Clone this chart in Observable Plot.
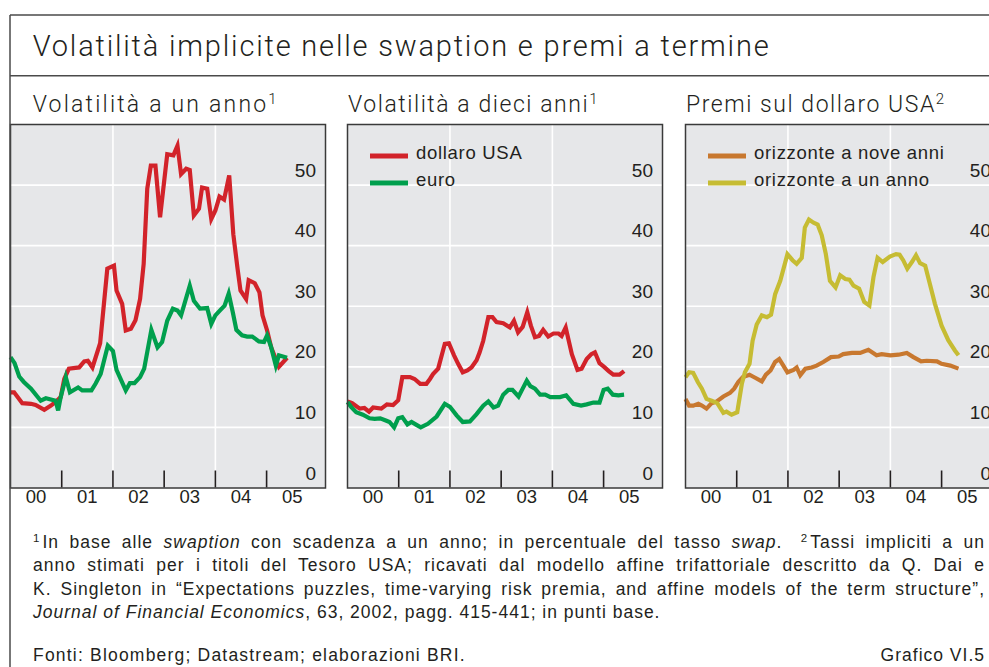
<!DOCTYPE html>
<html><head><meta charset="utf-8">
<script src="https://cdn.jsdelivr.net/npm/d3@7"></script>
<script src="https://cdn.jsdelivr.net/npm/@observablehq/plot@0.6"></script>
<style>
html,body{margin:0;padding:0;background:#fff;overflow:hidden;width:989px;height:667px;}
#root{position:relative;width:989px;height:667px;overflow:hidden;font-family:"Liberation Sans",Arial,sans-serif;color:#231f20;}
.panel{position:absolute;}
.panel svg{max-width:none !important;}
</style></head><body><div id="root"></div><script>
// ---------- DATA (decimal years, values) ----------
const usd1yYears = [2000.00,2000.07,2000.23,2000.40,2000.49,2000.66,2000.79,2000.88,2000.98,2001.05,2001.14,2001.34,2001.44,2001.51,2001.60,2001.75,2001.89,2002.02,2002.07,2002.18,2002.25,2002.35,2002.44,2002.53,2002.60,2002.67,2002.74,2002.83,2002.92,2003.06,2003.18,2003.26,2003.33,2003.43,2003.50,2003.58,2003.68,2003.74,2003.84,2003.92,2004.00,2004.08,2004.17,2004.27,2004.35,2004.43,2004.49,2004.60,2004.65,2004.77,2004.86,2004.92,2005.01,2005.09,2005.24,2005.40];
const usd1y = [15.8,15.8,14.0,13.9,13.7,12.9,13.6,14.2,15.0,18.0,19.7,19.9,20.9,21.0,19.9,23.9,36.2,36.7,32.6,30.4,26.0,26.3,27.7,31.2,37.0,49.4,53.2,53.2,44.7,55.1,54.9,56.5,51.8,52.7,52.5,45.0,46.1,49.6,49.4,44.4,45.8,48.1,47.6,51.6,41.9,36.4,32.6,31.2,34.3,33.8,32.3,28.5,26.0,23.2,20.0,21.5];
const eur1yYears = [2000.00,2000.08,2000.17,2000.26,2000.40,2000.59,2000.69,2000.88,2000.93,2000.98,2001.08,2001.16,2001.32,2001.40,2001.58,2001.66,2001.76,2001.90,2002.00,2002.07,2002.25,2002.33,2002.42,2002.53,2002.61,2002.75,2002.87,2002.96,2003.06,2003.17,2003.26,2003.33,2003.50,2003.58,2003.70,2003.84,2003.92,2004.00,2004.10,2004.18,2004.26,2004.34,2004.41,2004.52,2004.62,2004.72,2004.85,2004.95,2005.01,2005.09,2005.18,2005.24,2005.40];
const eur1y = [21.6,20.6,18.4,17.5,16.4,14.4,14.8,14.4,12.8,15.0,18.3,15.8,16.6,16.1,16.1,17.2,18.8,23.5,22.6,19.5,16.1,17.3,17.3,18.3,19.7,26.1,23.2,24.1,27.6,29.6,29.3,28.5,33.4,30.9,29.6,29.7,27.1,28.5,29.4,30.1,32.1,29.0,26.1,25.2,25.0,25.0,24.2,24.1,25.2,23.2,20.2,21.9,21.5];

const usd10yYears = [2000.00,2000.09,2000.24,2000.33,2000.42,2000.50,2000.66,2000.77,2000.89,2000.99,2001.07,2001.22,2001.31,2001.42,2001.54,2001.61,2001.67,2001.77,2001.90,2001.98,2002.08,2002.16,2002.25,2002.34,2002.42,2002.52,2002.58,2002.65,2002.75,2002.83,2002.91,2003.04,2003.17,2003.25,2003.33,2003.42,2003.51,2003.58,2003.66,2003.74,2003.82,2003.92,2004.02,2004.12,2004.18,2004.26,2004.38,2004.49,2004.57,2004.67,2004.76,2004.83,2004.92,2005.01,2005.10,2005.19,2005.31,2005.40];
const usd10y = [14.3,14.0,13.1,13.2,12.6,13.3,13.1,13.8,13.7,14.5,18.3,18.3,18.0,17.2,17.2,18.0,18.8,19.7,23.8,23.9,21.9,20.5,19.1,19.4,19.9,21.1,22.4,24.3,28.2,28.2,27.4,27.2,26.5,27.6,25.7,26.6,29.0,26.8,24.9,25.1,26.1,25.0,25.5,25.5,25.1,26.5,22.1,19.5,19.7,21.3,22.1,22.4,20.6,20.0,19.3,18.7,18.7,19.3];
const eur10yYears = [2000.00,2000.07,2000.17,2000.30,2000.43,2000.53,2000.64,2000.76,2000.82,2000.91,2000.99,2001.07,2001.17,2001.25,2001.33,2001.43,2001.57,2001.74,2001.90,2002.00,2002.13,2002.25,2002.39,2002.52,2002.65,2002.75,2002.85,2002.94,2003.04,2003.14,2003.22,2003.34,2003.42,2003.50,2003.57,2003.66,2003.76,2003.86,2003.96,2004.15,2004.27,2004.41,2004.56,2004.67,2004.80,2004.92,2005.00,2005.08,2005.18,2005.29,2005.40];
const eur10y = [14.2,13.4,12.5,12.1,11.5,11.4,11.5,11.1,10.9,10.0,11.5,11.7,10.5,10.9,10.5,10.0,10.6,11.8,13.9,13.4,12.0,10.9,11.0,12.2,13.6,14.3,13.3,13.6,15.4,16.2,16.2,15.1,16.4,17.7,16.8,16.4,15.4,15.4,15.0,15.0,15.3,13.9,13.6,13.8,14.1,14.1,16.2,16.4,15.4,15.3,15.4];

const nineYears = [2000.00,2000.07,2000.15,2000.25,2000.32,2000.41,2000.51,2000.61,2000.74,2000.87,2000.95,2001.03,2001.12,2001.25,2001.36,2001.49,2001.57,2001.66,2001.75,2001.83,2001.91,2001.99,2002.11,2002.17,2002.24,2002.34,2002.46,2002.56,2002.69,2002.84,2002.99,2003.08,2003.25,2003.41,2003.57,2003.73,2003.83,2004.00,2004.16,2004.32,2004.45,2004.60,2004.71,2004.91,2005.00,2005.17,2005.33];
const nineHorizon = [14.7,13.6,13.6,13.9,13.6,13.1,14.0,14.3,15.1,15.7,16.4,17.5,18.3,18.7,18.2,17.6,18.7,19.4,20.8,21.3,20.2,19.1,19.5,19.9,18.6,19.7,19.9,20.2,20.8,21.6,21.7,22.1,22.3,22.3,22.8,21.9,22.1,21.9,22.0,22.3,21.6,20.9,21.0,20.9,20.5,20.2,19.7];
const oneYears = [2000.00,2000.07,2000.15,2000.24,2000.32,2000.41,2000.51,2000.62,2000.74,2000.80,2000.90,2001.01,2001.10,2001.16,2001.25,2001.31,2001.39,2001.49,2001.59,2001.67,2001.75,2001.85,2001.99,2002.09,2002.17,2002.27,2002.33,2002.41,2002.50,2002.58,2002.66,2002.74,2002.82,2002.93,2003.02,2003.12,2003.20,2003.28,2003.39,2003.49,2003.59,2003.67,2003.75,2003.85,2003.99,2004.11,2004.18,2004.25,2004.33,2004.42,2004.50,2004.58,2004.68,2004.77,2004.87,2005.00,2005.13,2005.26,2005.33];
const oneHorizon = [18.3,19.1,19.0,17.5,16.4,14.7,14.4,14.0,12.4,12.6,12.1,12.5,17.2,19.1,20.5,24.3,27.0,28.5,28.2,28.6,32.0,34.2,38.6,37.6,37.0,38.0,43.0,44.3,43.8,43.5,41.7,38.6,34.2,33.1,35.1,34.5,34.4,33.4,32.9,30.7,30.1,34.8,38.0,37.3,38.2,38.6,38.5,37.6,36.2,37.3,38.4,37.1,36.7,33.7,30.4,26.8,24.4,22.7,21.9];

// axis / tick definitions
const xDomain = [2000, 2006.15];
const yDomain = [0, 60];
const yearBoundaries = [2001, 2002, 2003, 2004, 2005];
const verticalGridYears = [2002, 2004];
const yGridValues = [10, 20, 30, 40, 50];
const yTickLabels = [0, 10, 20, 30, 40, 50];
const xLabelPositions = [2000.5, 2001.5, 2002.5, 2003.5, 2004.5, 2005.5];
const xTickLabels = ["00", "01", "02", "03", "04", "05"];

const panelTitles = ["Volatilità a un anno", "Volatilità a dieci anni", "Premi sul dollaro USA"];
const panelNotes = ["1", "1", "2"];
const legend2Labels = ["dollaro USA", "euro"];
const legend3Labels = ["orizzonte a nove anni", "orizzonte a un anno"];

// ---------- STYLE ----------
const INK = "#231f20";
const BG = "#e6e7e9";
const RED = "#d2232a", GREEN = "#009f4d", ORANGE = "#c8782f", OLIVE = "#c6bc33";
const FONT = "'Liberation Sans', Arial, sans-serif";
const TFONT = "Roboto, 'Liberation Sans', Arial, sans-serif";

const root = d3.select("#root");

function zip(xs, ys) { return xs.map((x, i) => ({x, y: ys[i]})); }

function makePanel(series, left) {
  const FW = 315, FH = 363.5, mT = 3, mB = 30.5, mL = 3, mR = 3;
  const W = FW + mL + mR, H = FH + mT + mB;
  const svg = Plot.plot({
    width: W, height: H,
    marginLeft: mL, marginRight: mR, marginTop: mT, marginBottom: mB,
    x: {domain: xDomain, axis: null},
    y: {domain: yDomain, axis: null},
    style: {background: "transparent", overflow: "visible", fontFamily: FONT, fontSize: "19px", color: INK},
    marks: [
      Plot.frame({fill: BG, stroke: null}),
      Plot.ruleY(yGridValues, {stroke: "#fff", strokeWidth: 1.6}),
      Plot.ruleX(verticalGridYears, {stroke: "#fff", strokeWidth: 1.6}),
      Plot.ruleX(yearBoundaries, {stroke: INK, strokeWidth: 1.6, insetTop: FH - 17}),
      ...series.map(s => Plot.line(zip(s.x, s.y), {x: "x", y: "y", stroke: s.color, strokeWidth: 4.2, strokeLinejoin: "miter", strokeMiterlimit: 4, strokeLinecap: "butt"})),
      Plot.text(yTickLabels, {y: d => d, frameAnchor: "right", text: d => String(d), textAnchor: "end", lineAnchor: "bottom", dx: -9.5, dy: -8.5, fill: INK, fontSize: 19, fontFamily: FONT}),
      Plot.text(xLabelPositions, {x: d => d, frameAnchor: "bottom", text: (d, i) => xTickLabels[i], dy: 14.5, fill: INK, fontSize: 18.5, fontFamily: FONT}),
      Plot.frame({stroke: "#3a3a3a", strokeWidth: 1.5})
    ]
  });
  svg.style.maxWidth = "none";
  svg.style.width = W + "px";
  svg.style.height = H + "px";
  const div = root.append("div").attr("class", "panel")
    .style("left", (left - mL) + "px").style("top", (124.2 - mT) + "px")
    .style("width", W + "px").style("height", H + "px");
  div.node().appendChild(svg);
}

makePanel([{x: usd1yYears, y: usd1y, color: RED}, {x: eur1yYears, y: eur1y, color: GREEN}], 10);
makePanel([{x: usd10yYears, y: usd10y, color: RED}, {x: eur10yYears, y: eur10y, color: GREEN}], 347.4);
makePanel([{x: nineYears, y: nineHorizon, color: ORANGE}, {x: oneYears, y: oneHorizon, color: OLIVE}], 685.2);

// ---------- OVERLAY (titles, borders, legends, notes) ----------
const ov = root.append("svg").attr("width", 989).attr("height", 667)
  .style("position", "absolute").style("left", 0).style("top", 0).style("z-index", 5);
const border = "#4a4a4a";
ov.append("line").attr("x1", 10).attr("y1", 15).attr("x2", 1000).attr("y2", 15).attr("stroke", border).attr("stroke-width", 1.5);
ov.append("line").attr("x1", 10).attr("y1", 15).attr("x2", 10).attr("y2", 700).attr("stroke", border).attr("stroke-width", 1.5);
ov.append("line").attr("x1", 10).attr("y1", 75.7).attr("x2", 1000).attr("y2", 75.7).attr("stroke", border).attr("stroke-width", 1.5);

ov.append("text").attr("x", 32.7).attr("y", 55.7)
  .attr("font-family", TFONT).attr("font-weight", 300).attr("font-size", 29).attr("fill", INK)
  .attr("textLength", 736).attr("lengthAdjust", "spacing")
  .text("Volatilità implicite nelle swaption e premi a termine");

const titleX = [32.7, 348, 686];
const titleSpacing = ["2.2px", "1.55px", "1.55px"];
panelTitles.forEach((t, i) => {
  const tx = ov.append("text").attr("x", titleX[i]).attr("y", 112.3)
    .attr("font-family", TFONT).attr("font-weight", 300).attr("font-size", 23).attr("fill", INK)
    .attr("letter-spacing", titleSpacing[i]);
  tx.append("tspan").text(t);
  tx.append("tspan").attr("font-size", 15).attr("dy", -8).text(panelNotes[i]);
});

function legend(x0, labels, colors) {
  labels.forEach((lab, i) => {
    const y = 156 + i * 27;
    ov.append("line").attr("x1", x0).attr("x2", x0 + 38).attr("y1", y).attr("y2", y).attr("stroke", colors[i]).attr("stroke-width", 5);
    ov.append("text").attr("x", x0 + 46).attr("y", y + 2.8).attr("font-family", FONT).attr("font-size", 18.5)
      .attr("letter-spacing", "0.7px").attr("fill", INK).text(lab);
  });
}
legend(370, legend2Labels, [RED, GREEN]);
legend(708, legend3Labels, [ORANGE, OLIVE]);

// footnotes
const noteFont = 17.5;
const noteLS = "1.0px";
const noteX = 33, noteRight = 985;
function noteLine(y, parts, justify) {
  const t = ov.append("text").attr("x", noteX).attr("y", y).attr("font-family", FONT)
    .attr("font-size", noteFont).attr("fill", INK).attr("letter-spacing", noteLS);
  let shifted = false;
  parts.forEach(p => {
    const ts = t.append("tspan").text(p.t);
    if (p.i) ts.attr("font-style", "italic");
    if (p.sup) { ts.attr("font-size", 11.5).attr("dy", -6); if (p.dx) ts.attr("dx", p.dx); shifted = true; }
    else if (shifted) { ts.attr("dy", 6).attr("dx", 2); shifted = false; }
  });
  if (justify) {
    const txt = parts.map(p => p.t).join("");
    const spaces = (txt.match(/ /g) || []).length;
    let ws = 0;
    for (let k = 0; k < 4; k++) {
      const b = t.node().getBBox();
      const right = b.x + b.width;
      ws += (noteRight - right) / spaces;
      t.attr("word-spacing", ws + "px");
    }
  }
  return t;
}
noteLine(547.7, [
  {t: "1", sup: true},
  {t: "In base alle "}, {t: "swaption", i: true},
  {t: " con scadenza a un anno; in percentuale del tasso "}, {t: "swap", i: true}, {t: ". "},
  {t: "2", sup: true, dx: 8}, {t: "Tassi impliciti a un"}
], true);
noteLine(571.2, [{t: "anno stimati per i titoli del Tesoro USA; ricavati dal modello affine trifattoriale descritto da Q. Dai e"}], true);
noteLine(594.7, [{t: "K. Singleton in “Expectations puzzles, time-varying risk premia, and affine models of the term structure”,"}], true);
noteLine(618.2, [{t: "Journal of Financial Economics", i: true}, {t: ", 63, 2002, pagg. 415-441; in punti base."}], false);
ov.append("text").attr("x", noteX).attr("y", 661).attr("font-family", FONT).attr("font-size", noteFont)
  .attr("letter-spacing", "1.2px").attr("fill", INK).text("Fonti: Bloomberg; Datastream; elaborazioni BRI.");
ov.append("text").attr("x", noteRight).attr("y", 661).attr("text-anchor", "end").attr("font-family", FONT)
  .attr("font-size", noteFont).attr("letter-spacing", noteLS).attr("fill", INK).text("Grafico VI.5");
</script></body></html>
